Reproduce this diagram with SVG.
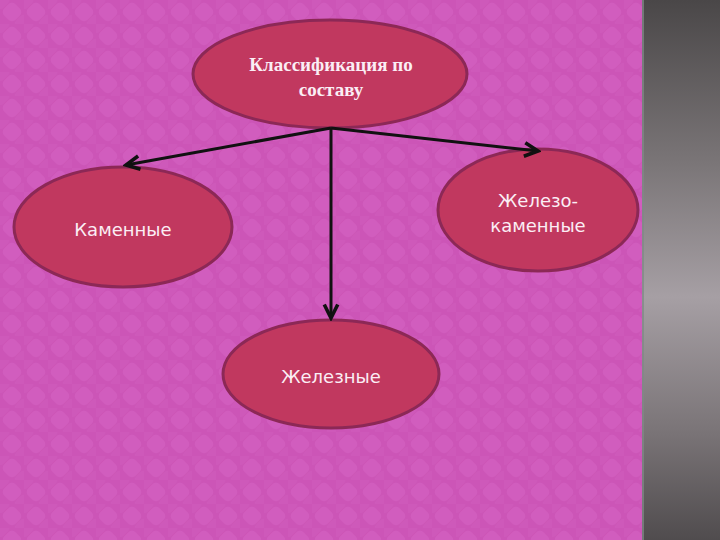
<svg xmlns="http://www.w3.org/2000/svg" width="720" height="540" viewBox="0 0 720 540">
<defs>
<pattern id="dia" x="0" y="0" width="24" height="24" patternUnits="userSpaceOnUse">
<rect width="24" height="24" fill="#cc55b7"/>
<rect x="4" y="4" width="16" height="16" rx="5" transform="rotate(45 12 12)" fill="#d464c2" opacity="0.55"/>
<rect x="-8" y="-8" width="16" height="16" rx="5" transform="rotate(45 0 0)" fill="#d060be" opacity="0.35"/>
<rect x="16" y="16" width="16" height="16" rx="5" transform="rotate(45 24 24)" fill="#d060be" opacity="0.35"/>
</pattern>
<linearGradient id="side" x1="0" y1="0" x2="0" y2="1">
<stop offset="0" stop-color="#4a4748"/>
<stop offset="0.3" stop-color="#7a7577"/>
<stop offset="0.55" stop-color="#a69fa4"/>
<stop offset="0.8" stop-color="#7a7477"/>
<stop offset="1" stop-color="#504c4e"/>
</linearGradient>
<marker id="ah" viewBox="0 0 12 12" refX="10" refY="6" markerWidth="6" markerHeight="6" orient="auto" markerUnits="strokeWidth">
<path d="M1,1.5 L10,6 L1,10.5" fill="none" stroke="#111" stroke-width="2.4" stroke-linejoin="miter"/>
</marker>
<style>
.node ellipse { fill: #c1385f; stroke: #8c2856; stroke-width: 3; }
.sans { font-family: "DejaVu Sans", "Noto Sans", sans-serif; font-size: 18px; fill: #fbeef5; text-anchor: middle; }
.serif { font-family: "Liberation Serif", "Times New Roman", serif; font-size: 19px; font-weight: bold; fill: #fbeef5; text-anchor: middle; }
.conn line { stroke: #111; stroke-width: 3; fill: none; }
</style>
</defs>
<rect width="720" height="540" fill="url(#dia)"/>
<rect x="642" y="0" width="78" height="540" fill="url(#side)"/>
<line x1="643" y1="0" x2="643" y2="540" stroke="#7f8a86" stroke-width="1.5"/>

<g id="node-top" class="node">
<ellipse cx="330" cy="74" rx="137" ry="54"/>
<text class="serif" x="331" y="71">Классификация по</text>
<text class="serif" x="331" y="96">составу</text>
</g>
<g id="node-left" class="node">
<ellipse cx="123" cy="227" rx="109" ry="60"/>
<text class="sans" x="123" y="236">Каменные</text>
</g>
<g id="node-right" class="node">
<ellipse cx="538" cy="210" rx="100" ry="61"/>
<text class="sans" x="538" y="207">Железо-</text>
<text class="sans" x="538" y="232">каменные</text>
</g>
<g id="node-bottom" class="node">
<ellipse cx="331" cy="374" rx="108" ry="54"/>
<text class="sans" x="331" y="383">Железные</text>
</g>

<g id="connectors" class="conn">
<line x1="331" y1="128" x2="126" y2="165" marker-end="url(#ah)"/>
<line x1="331" y1="128" x2="538" y2="151" marker-end="url(#ah)"/>
<line x1="331" y1="128" x2="331" y2="318" marker-end="url(#ah)"/>
</g>
</svg>
